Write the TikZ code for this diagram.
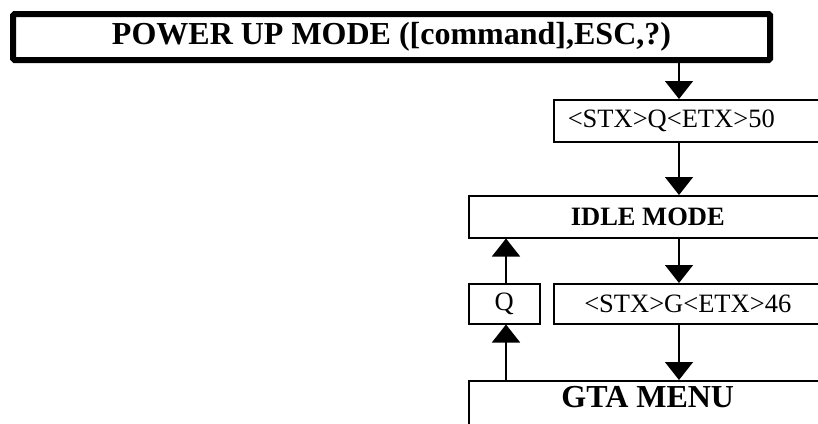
\documentclass[tikz,border=0pt]{standalone}
\usepackage{fontspec}
\setmainfont{Liberation Serif}
\usetikzlibrary{arrows.meta, positioning}

\begin{document}
\begin{tikzpicture}[
    x=1pt, y=-1pt,
    modebox/.style={rectangle, draw, line width=6pt, rounded corners=1.5pt, minimum width=757pt, minimum height=46pt, font=\fontsize{32}{36}\selectfont\bfseries},
    cmdbox/.style={rectangle, draw, line width=1.5pt, anchor=north west, inner sep=0pt, font=\fontsize{26.5}{30}\selectfont},
    arrow/.style={draw, line width=1.5pt, -{Triangle[length=18pt, width=28pt]}}
]
\clip (0,0) rectangle (818,423);

% Nodes
\node[modebox] (power) at (391.5,37) {POWER UP MODE ([command],ESC,?)};
\node[cmdbox, minimum width=287pt, minimum height=42pt, text width=259pt, align=left] (stxq) at (553,99) {<STX>Q<ETX>50};
\node[cmdbox, minimum width=358pt, minimum height=42pt, font=\fontsize{26.5}{30}\selectfont\bfseries] (idle) at (468,195) {IDLE MODE};
\node[cmdbox, minimum width=71pt, minimum height=40pt] (q) at (468,283) {Q};
\node[cmdbox, minimum width=268pt, minimum height=40pt] (stxg) at (553,283) {<STX>G<ETX>46};
\node[cmdbox, minimum width=358pt, inner ysep=5pt, text height=22pt, text depth=30pt, font=\fontsize{32}{36}\selectfont\bfseries] (gta) at (468,380) {GTA MENU};
\coordinate (col) at (679,0);
\coordinate (qcol) at (506,0);

% Arrows
\draw[arrow] (power.south -| col) -- (stxq.north -| col);
\draw[arrow] (stxq.south -| col) -- (idle.north -| col);
\draw[arrow] (idle.south -| col) -- (stxg.north -| col);
\draw[arrow] (stxg.south -| col) -- (gta.north -| col);
\draw[arrow] (q.north -| qcol) -- (idle.south -| qcol);
\draw[arrow] (gta.north -| qcol) -- (q.south -| qcol);

\end{tikzpicture}
\end{document}
